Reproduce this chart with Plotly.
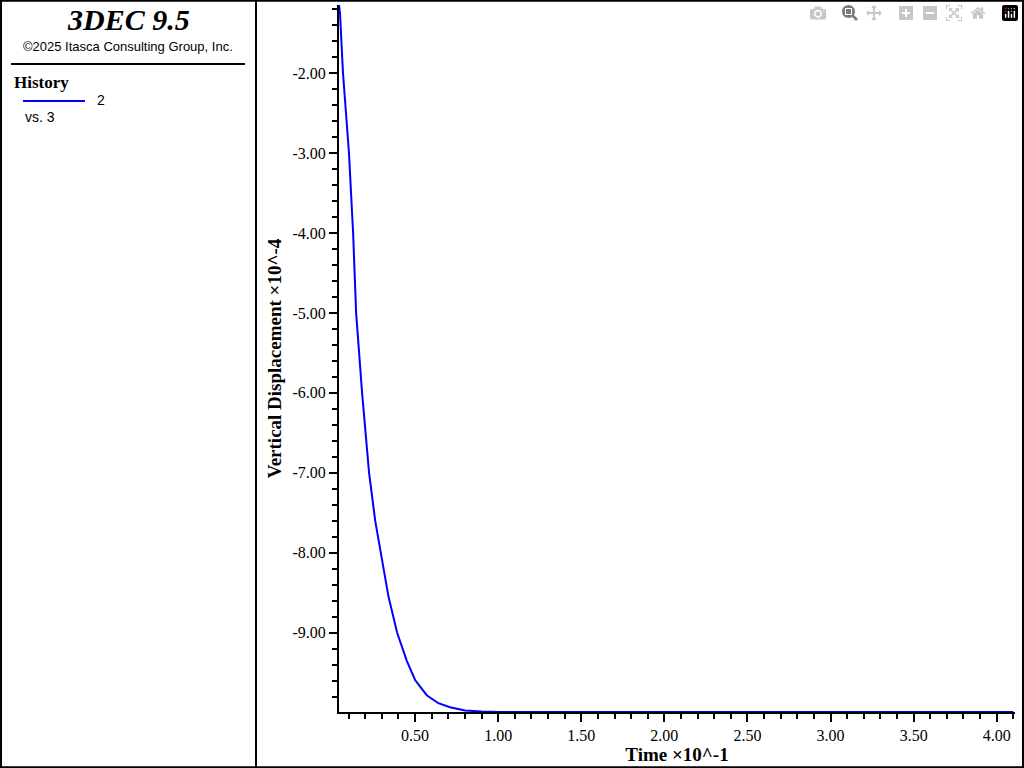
import plotly.graph_objects as go

# history 2 vs 3 (time x10^-1, vertical displacement x10^-4)
time = [0.042, 0.048, 0.066, 0.085, 0.102, 0.127, 0.145, 0.181, 0.223, 0.260, 0.295, 0.340,
        0.392, 0.45, 0.50, 0.57, 0.64, 0.71, 0.80, 0.90, 1.00, 1.5, 2.0, 2.5, 3.0, 3.5, 4.1]
disp = [-1.15, -1.25, -2.0, -2.55, -3.0, -4.0, -5.0, -6.0, -7.0, -7.6, -8.0, -8.55,
        -9.0, -9.35, -9.59, -9.78, -9.88, -9.93, -9.97, -9.985, -9.99, -9.99, -9.99, -9.99, -9.99, -9.99, -9.99]

W, H = 1024, 768
fig = go.Figure()
fig.add_trace(go.Scatter(x=time, y=disp, mode="lines", line=dict(color="#0000ff", width=2),
                         showlegend=False))

ax_font = dict(family="Liberation Serif", size=16, color="black")
title_font = dict(family="Liberation Serif", size=19, color="black")
fig.update_layout(
    width=W, height=H, margin=dict(l=0, r=0, t=0, b=0),
    paper_bgcolor="white", plot_bgcolor="white",
    xaxis=dict(domain=[339 / W, 1015 / W], range=[0.042, 4.11], tickvals=[0.5, 1, 1.5, 2, 2.5, 3, 3.5, 4],
               ticktext=["0.50", "1.00", "1.50", "2.00", "2.50", "3.00", "3.50", "4.00"],
               ticks="outside", ticklen=8, tickwidth=2, tickcolor="black",
               minor=dict(dtick=0.1, tick0=0, ticks="outside", ticklen=5, tickwidth=2, tickcolor="black"),
               showline=True, linecolor="black", linewidth=2, showgrid=False, zeroline=False,
               tickfont=ax_font, title=dict(text="<b>Time ×10^-1</b>", font=title_font, standoff=0)),
    yaxis=dict(domain=[(H - 712) / H, (H - 5) / H], range=[-9.99, -1.15],
               tickvals=[-2, -3, -4, -5, -6, -7, -8, -9],
               ticktext=["-2.00", "-3.00", "-4.00", "-5.00", "-6.00", "-7.00", "-8.00", "-9.00"],
               ticks="outside", ticklen=8, tickwidth=2, tickcolor="black",
               minor=dict(dtick=0.2, tick0=0, ticks="outside", ticklen=5, tickwidth=2, tickcolor="black"),
               showline=True, linecolor="black", linewidth=2, showgrid=False, zeroline=False,
               tickfont=ax_font, title=dict(text="<b>Vertical Displacement ×10^-4</b>",
                                            font=title_font, standoff=6)),
    shapes=[
        dict(type="rect", xref="paper", yref="paper", x0=0.001, x1=0.999, y0=0.001, y1=0.999,
             line=dict(color="black", width=2)),
        dict(type="line", xref="paper", yref="paper", x0=256 / W, x1=256 / W, y0=0, y1=1,
             line=dict(color="black", width=2)),
        dict(type="line", xref="paper", yref="paper", x0=11 / W, x1=245 / W, y0=1 - 64 / H, y1=1 - 64 / H,
             line=dict(color="black", width=2)),
        dict(type="line", xref="paper", yref="paper", x0=23 / W, x1=85 / W, y0=1 - 101 / H, y1=1 - 101 / H,
             line=dict(color="#0000ff", width=2)),
    ],
    annotations=[
        dict(text="<b><i>3DEC 9.5</i></b>", x=128 / W, y=1 - 19 / H, xanchor="center", yanchor="middle",
             font=dict(family="Liberation Serif", size=30, color="black")),
        dict(text="©2025 Itasca Consulting Group, Inc.", x=128 / W, y=1 - 46 / H, xanchor="center",
             yanchor="middle", font=dict(family="Liberation Sans", size=13, color="black")),
        dict(text="<b>History</b>", x=12 / W, y=1 - 82 / H, xanchor="left", yanchor="middle",
             font=dict(family="Liberation Serif", size=17, color="black")),
        dict(text="2", x=95 / W, y=1 - 100 / H, xanchor="left", yanchor="middle",
             font=dict(family="Liberation Sans", size=14, color="black")),
        dict(text="vs. 3", x=23 / W, y=1 - 117 / H, xanchor="left", yanchor="middle",
             font=dict(family="Liberation Sans", size=14, color="black")),
    ],
)
fig.update_annotations(xref="paper", yref="paper", showarrow=False)
fig.write_html("out.html", post_script="document.body.style.margin='0';")
